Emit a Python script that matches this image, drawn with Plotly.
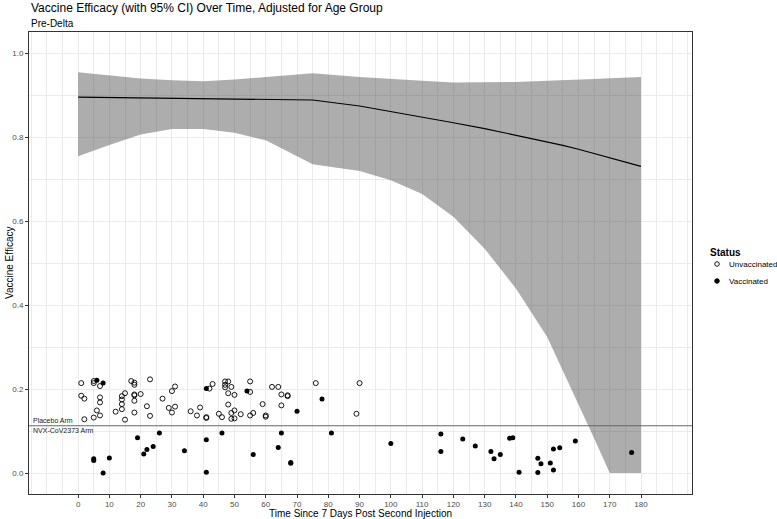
import plotly.graph_objects as go

# ---------------- data ----------------
unvax_x = [1, 5, 5, 7, 1, 2, 7, 7, 6, 7, 5, 2, 12, 14, 14, 14, 14, 15, 15, 17, 18, 18, 18, 18, 18, 18,
           20, 22, 23, 23, 27, 29, 30, 31, 31, 30, 36, 38, 39, 41, 41, 42, 43, 45, 46, 47, 48, 47, 47,
           49, 48, 50, 48, 50, 49, 49, 50, 52, 55, 55, 55, 56, 59, 60, 60, 62, 64, 65, 65, 67, 67, 76,
           90, 89]
unvax_y = [0.214, 0.219, 0.214, 0.207, 0.184, 0.177, 0.180, 0.168, 0.149, 0.137, 0.132, 0.128, 0.146,
           0.152, 0.164, 0.175, 0.183, 0.190, 0.127, 0.219, 0.215, 0.210, 0.187, 0.185, 0.172, 0.144,
           0.188, 0.159, 0.223, 0.136, 0.177, 0.155, 0.195, 0.206, 0.158, 0.144, 0.147, 0.137, 0.156,
           0.133, 0.131, 0.201, 0.212, 0.141, 0.133, 0.218, 0.218, 0.210, 0.204, 0.205, 0.190, 0.186,
           0.163, 0.149, 0.143, 0.129, 0.130, 0.140, 0.218, 0.193, 0.137, 0.143, 0.164, 0.137, 0.134,
           0.205, 0.205, 0.187, 0.161, 0.185, 0.183, 0.214, 0.214, 0.141]

vax_x = [6, 8, 41, 54, 78, 70, 19, 26, 41, 24, 22, 21, 34, 10, 5, 5, 8, 41, 46, 65, 81, 64, 56, 68, 68,
         100, 116, 116, 123, 127, 132, 133, 135, 138, 139, 141, 147, 148, 147, 151, 152, 152, 154, 159, 177]
vax_y = [0.221, 0.214, 0.201, 0.195, 0.176, 0.147, 0.084, 0.095, 0.079, 0.063, 0.056, 0.045, 0.053,
         0.036, 0.034, 0.030, 0.000, 0.002, 0.095, 0.095, 0.095, 0.061, 0.044, 0.025, 0.023,
         0.070, 0.093, 0.051, 0.081, 0.064, 0.051, 0.034, 0.044, 0.083, 0.084, 0.002, 0.035, 0.022,
         0.001, 0.024, 0.007, 0.057, 0.060, 0.076, 0.049]

ve_time = [0, 10, 20, 30, 40, 50, 60, 75, 90, 100, 110, 120, 130, 140, 150, 155, 160, 165, 170, 180]
ve_est = [0.895, 0.894, 0.893, 0.892, 0.891, 0.890, 0.889, 0.888, 0.874, 0.861, 0.848, 0.834, 0.820,
          0.804, 0.789, 0.780, 0.771, 0.761, 0.751, 0.730]
ve_upper = [0.954, 0.946, 0.939, 0.935, 0.933, 0.937, 0.943, 0.952, 0.943, 0.938, 0.934, 0.930, 0.930,
            0.931, 0.934, 0.935, 0.937, 0.938, 0.940, 0.943]
ve_lower = [0.754, 0.781, 0.806, 0.819, 0.819, 0.810, 0.792, 0.735, 0.719, 0.697, 0.664, 0.610, 0.534,
            0.439, 0.324, 0.245, 0.166, 0.083, 0.0, 0.0]

arm_split = 0.1125
x_ticks = list(range(0, 181, 10))
y_ticks = [0.0, 0.2, 0.4, 0.6, 0.8, 1.0]
status_levels = ["Unvaccinated", "Vaccinated"]

FONT = "Liberation Sans, Arial, sans-serif"
W, H = 777, 519
ML, MR, MT, MB = 29, 85, 32, 25
PW = W - ML - MR
PH = H - MT - MB


def px_to_paper_x(px):
    return (px - ML) / PW


def py_to_paper_y(py):
    return (H - MB - py) / PH


fig = go.Figure()

# CI ribbon
fig.add_trace(go.Scatter(x=ve_time, y=ve_upper, mode="lines", line=dict(width=0),
                         showlegend=False, hoverinfo="skip"))
fig.add_trace(go.Scatter(x=ve_time, y=ve_lower, mode="lines", line=dict(width=0),
                         fill="tonexty", fillcolor="rgba(51,51,51,0.40)",
                         showlegend=False, hoverinfo="skip"))
# estimate line
fig.add_trace(go.Scatter(x=ve_time, y=ve_est, mode="lines", line=dict(color="black", width=1.1),
                         showlegend=False))

# points
fig.add_trace(go.Scatter(x=unvax_x, y=unvax_y, mode="markers", name=status_levels[0], showlegend=False,
                         marker=dict(symbol="circle-open", size=5, color="black",
                                     line=dict(width=0.9, color="black"))))
fig.add_trace(go.Scatter(x=vax_x, y=vax_y, mode="markers", name=status_levels[1], showlegend=False,
                         marker=dict(symbol="circle", size=5, color="black", line=dict(width=0))))

# horizontal separator
fig.add_shape(type="line", xref="paper", x0=0, x1=1, yref="y", y0=arm_split, y1=arm_split,
              line=dict(color="#666666", width=1))

fig.add_annotation(x=-15, y=arm_split, xref="x", yref="y", text="Placebo Arm", showarrow=False,
                   xanchor="left", yanchor="bottom", yshift=0,
                   font=dict(family=FONT, size=7, color="#1a1a1a"))
fig.add_annotation(x=-15, y=arm_split, xref="x", yref="y", text="NVX-CoV2373 Arm", showarrow=False,
                   xanchor="left", yanchor="top", yshift=1,
                   font=dict(family=FONT, size=7, color="#1a1a1a"))

# titles
fig.add_annotation(x=0, y=1, xref="paper", yref="paper", yshift=15, xanchor="left", yanchor="bottom",
                   text="Vaccine Efficacy (with 95% CI) Over Time, Adjusted for Age Group",
                   showarrow=False, font=dict(family=FONT, size=12, color="black"))
fig.add_annotation(x=0, y=1, xref="paper", yref="paper", yshift=1, xanchor="left", yanchor="bottom",
                   text="Pre-Delta", showarrow=False, font=dict(family=FONT, size=10, color="black"))
fig.add_annotation(x=0, y=0.5, xref="paper", yref="paper", xshift=-20, xanchor="center",
                   yanchor="middle", textangle=-90, text="Vaccine Efficacy", showarrow=False,
                   font=dict(family=FONT, size=10, color="black"))
fig.add_annotation(x=0.5, y=0, xref="paper", yref="paper", yshift=-12.5, xanchor="center",
                   yanchor="top", borderpad=0, text="Time Since 7 Days Post Second Injection",
                   showarrow=False, font=dict(family=FONT, size=10, color="black"))

# legend (drawn manually to match ggplot spacing)
fig.add_annotation(x=px_to_paper_x(708), y=py_to_paper_y(252), xref="paper", yref="paper",
                   xanchor="left", yanchor="middle", text="<b>Status</b>", showarrow=False,
                   font=dict(family=FONT, size=10, color="black"))
legend_rows = [(status_levels[0], 264, "white"), (status_levels[1], 281, "black")]
for label, py, fillc in legend_rows:
    fig.add_shape(type="circle", xref="paper", yref="paper", xsizemode="pixel", ysizemode="pixel",
                  xanchor=px_to_paper_x(717), yanchor=py_to_paper_y(py),
                  x0=-2.3, x1=2.3, y0=-2.3, y1=2.3,
                  fillcolor=fillc, line=dict(color="black", width=0.9))
    fig.add_annotation(x=px_to_paper_x(727), y=py_to_paper_y(py), xref="paper", yref="paper",
                       xanchor="left", yanchor="middle", text=label, showarrow=False,
                       font=dict(family=FONT, size=8, color="black"))

fig.update_xaxes(range=[-15.7, 196.3], tickvals=x_ticks, ticktext=[str(v) for v in x_ticks],
                 showgrid=True, gridcolor="#EBEBEB", gridwidth=1,
                 minor=dict(dtick=5, tick0=0, showgrid=True, gridcolor="#EBEBEB", gridwidth=0.6),
                 ticks="outside", ticklen=3, tickcolor="#333333", tickwidth=0.8,
                 ticklabelstandoff=-1,
                 tickfont=dict(family=FONT, size=8, color="#4D4D4D"),
                 showline=True, linecolor="#333333", linewidth=1, mirror=True, zeroline=False)
fig.update_yaxes(range=[-0.05, 1.05], tickvals=y_ticks, ticktext=["0.0", "0.2", "0.4", "0.6", "0.8", "1.0"],
                 showgrid=True, gridcolor="#EBEBEB", gridwidth=1,
                 minor=dict(dtick=0.1, tick0=0, showgrid=True, gridcolor="#EBEBEB", gridwidth=0.6),
                 ticks="outside", ticklen=3, tickcolor="#333333", tickwidth=0.8,
                 tickfont=dict(family=FONT, size=8, color="#4D4D4D"),
                 showline=True, linecolor="#333333", linewidth=1, mirror=True, zeroline=False)

fig.update_layout(
    width=W, height=H,
    margin=dict(l=ML, r=MR, t=MT, b=MB, pad=0, autoexpand=False),
    paper_bgcolor="white", plot_bgcolor="white",
    font=dict(family=FONT),
    showlegend=False,
)

fig.write_html("out.html", config={"displayModeBar": False},
               post_script="document.body.style.margin='0px';")
